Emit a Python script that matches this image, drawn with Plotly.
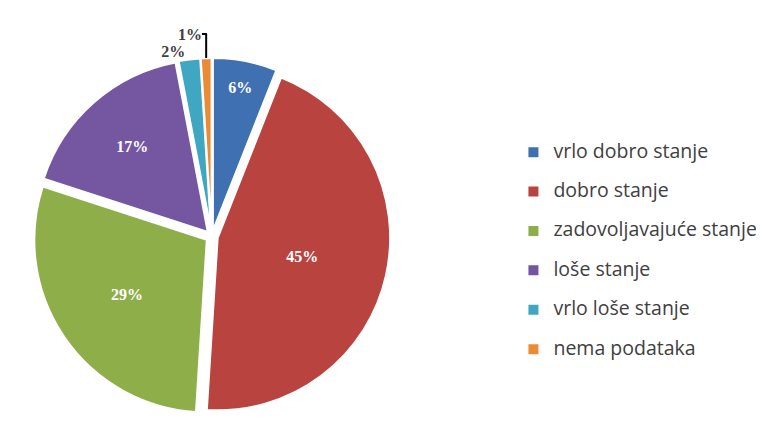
import plotly.graph_objects as go

categories = ["vrlo dobro stanje", "dobro stanje", "zadovoljavajuće stanje",
              "loše stanje", "vrlo loše stanje", "nema podataka"]
values = [6, 45, 29, 17, 2, 1]
colors = ["#3F70B2", "#B9433F", "#8EAE4A", "#7457A0", "#40A7C2", "#EC8B36"]
text_positions = ["inside", "inside", "inside", "inside", "outside", "outside"]
text_colors = ["white", "white", "white", "white", "#404040", "#404040"]

legend_labels = ["<span style='font-size:19.5px'>" + c + "</span><br> " for c in categories]

fig = go.Figure(go.Pie(
    labels=legend_labels,
    values=values,
    sort=False,
    direction="clockwise",
    rotation=0,
    pull=[0.035] * len(values),
    marker=dict(colors=colors, line=dict(color="white", width=2)),
    texttemplate="<b>%{value}%</b>",
    textposition=text_positions,
    insidetextorientation="horizontal",
    textfont=dict(family="Liberation Serif", size=16, color=text_colors),
    domain=dict(x=[0.0, 0.492], y=[0.0, 1.0]),
    hoverinfo="label+percent",
))

fig.update_layout(
    width=764, height=421,
    margin=dict(l=0, r=0, t=0, b=0),
    paper_bgcolor="white",
    showlegend=True,
    legend=dict(
        x=0.652, y=0.434, xanchor="left", yanchor="middle",
        font=dict(family="Open Sans", size=14, color="#404040"),
        valign="top",
        itemwidth=30,
    ),
)

fig.write_html("out.html")
